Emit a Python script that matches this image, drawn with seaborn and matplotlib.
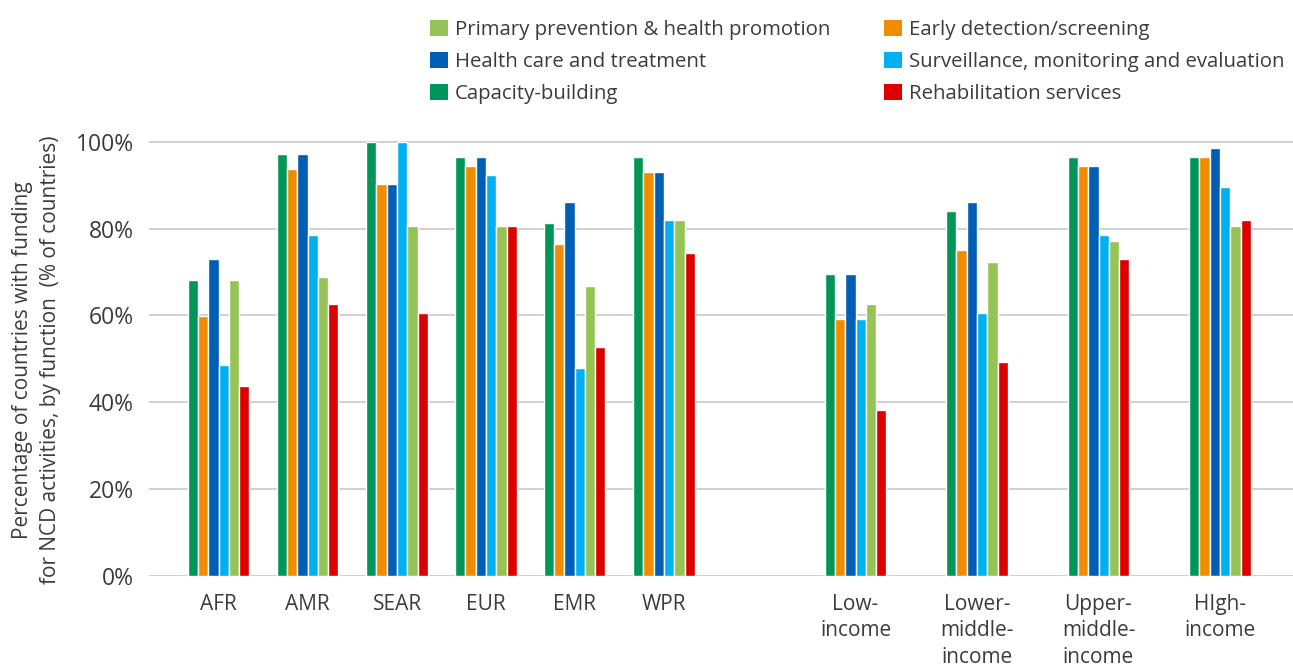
import numpy as np
import pandas as pd
import matplotlib
matplotlib.use("Agg")
import matplotlib.pyplot as plt
import seaborn as sns
from matplotlib import font_manager as fm
from matplotlib.patches import Patch

# ---------------- data ----------------
categories = ["AFR", "AMR", "SEAR", "EUR", "EMR", "WPR",
              "Low-\nincome", "Lower-\nmiddle-\nincome",
              "Upper-\nmiddle-\nincome", "HIgh-\nincome"]
series = ["Capacity-building",
          "Early detection/screening",
          "Health care and treatment",
          "Surveillance, monitoring and evaluation",
          "Primary prevention & health promotion",
          "Rehabilitation services"]

capacity_building  = [68.2, 97.2, 100.0, 96.5, 81.3, 96.5, 69.6, 84.1, 96.5, 96.5]
early_detection    = [59.9, 93.8, 90.3, 94.5, 76.5, 93.1, 59.2, 75.1, 94.5, 96.5]
health_care        = [73.0, 97.2, 90.3, 96.5, 86.2, 93.1, 69.6, 86.2, 94.5, 98.6]
surveillance       = [48.6, 78.6, 100.0, 92.4, 47.9, 82.0, 59.2, 60.6, 78.6, 89.6]
primary_prevention = [68.2, 68.9, 80.6, 80.6, 66.8, 82.0, 62.6, 72.3, 77.2, 80.6]
rehabilitation     = [43.7, 62.6, 60.6, 80.6, 52.7, 74.4, 38.2, 49.3, 73.0, 82.0]

yticks = [0, 20, 40, 60, 80, 100]
ytick_labels = ["0%", "20%", "40%", "60%", "80%", "100%"]
ylabel = "Percentage of countries with funding\nfor NCD activities, by function  (% of countries)"

# ---------------- layout / style ----------------
group_pos = [218.5, 307.5, 397.0, 486.0, 574.5, 664.0, 855.5, 977.0, 1098.5, 1220.0]
colors = {
    "Capacity-building": "#00965A",
    "Early detection/screening": "#F08C00",
    "Health care and treatment": "#005EB4",
    "Surveillance, monitoring and evaluation": "#00B0F0",
    "Primary prevention & health promotion": "#96C355",
    "Rehabilitation services": "#DC0000",
}

values = [capacity_building, early_detection, health_care,
          surveillance, primary_prevention, rehabilitation]
rows = []
for s, vals in zip(series, values):
    for p, v in zip(group_pos, vals):
        rows.append({"pos": p, "value": v, "series": s})
df = pd.DataFrame(rows)

sns.set_theme(style="white")
available = {f.name for f in fm.fontManager.ttflist}
fam = [f for f in ["Open Sans", "Noto Sans", "DejaVu Sans"] if f in available]
plt.rcParams["font.family"] = fam
txt_color = "#3c3c3c"

W, H = 1293, 664
fig = plt.figure(figsize=(W / 100, H / 100), dpi=100)
y0_px, y100_px = 575.7, 142.0
ymax = 105
ytop_px = y0_px - (y0_px - y100_px) * ymax / 100
left_px, right_px = 149, 1293
ax = fig.add_axes([left_px / W, (H - y0_px) / H,
                   (right_px - left_px) / W, (y0_px - ytop_px) / H])

sns.barplot(data=df, x="pos", y="value", hue="series", hue_order=series,
            palette=colors, native_scale=True, width=0.695, dodge=True,
            saturation=1, errorbar=None, legend=False, ax=ax, zorder=3)

ax.set_xlim(left_px, right_px)
ax.set_ylim(0, ymax)
ax.set_yticks(yticks)
ax.set_yticklabels(ytick_labels)
ax.set_xticks(group_pos)
ax.set_xticklabels(categories, linespacing=1.35)
for sp in ax.spines.values():
    sp.set_visible(False)
ax.yaxis.grid(True, color="#d0d0d0", linewidth=1.4, zorder=0)
ax.set_axisbelow(True)
ax.tick_params(axis="y", length=0, pad=11, labelsize=16.5, labelcolor=txt_color)
ax.tick_params(axis="x", length=0, pad=13, labelsize=15, labelcolor=txt_color)
for t in ax.get_xticklabels():
    t.set_verticalalignment("top")
ax.set_xlabel("")
ax.set_ylabel(ylabel, fontsize=15, color=txt_color, linespacing=1.45)
ax.yaxis.set_label_coords(-0.077, 0.474)

def make_legend(names, x_px, y_px):
    handles = [Patch(facecolor=colors[n], edgecolor="none", label=n) for n in names]
    leg = fig.legend(handles=handles, loc="upper left",
                     bbox_to_anchor=(x_px / W, 1 - y_px / H),
                     frameon=False, ncol=1, fontsize=14.7,
                     handlelength=0.88, handleheight=0.84, handletextpad=0.34,
                     labelspacing=0.60, borderpad=0, borderaxespad=0)
    for t in leg.get_texts():
        t.set_color(txt_color)
    return leg

make_legend(["Primary prevention & health promotion",
             "Health care and treatment",
             "Capacity-building"], 430, 19.5)
make_legend(["Early detection/screening",
             "Surveillance, monitoring and evaluation",
             "Rehabilitation services"], 884, 19.5)

fig.savefig("out.png", dpi=100)
